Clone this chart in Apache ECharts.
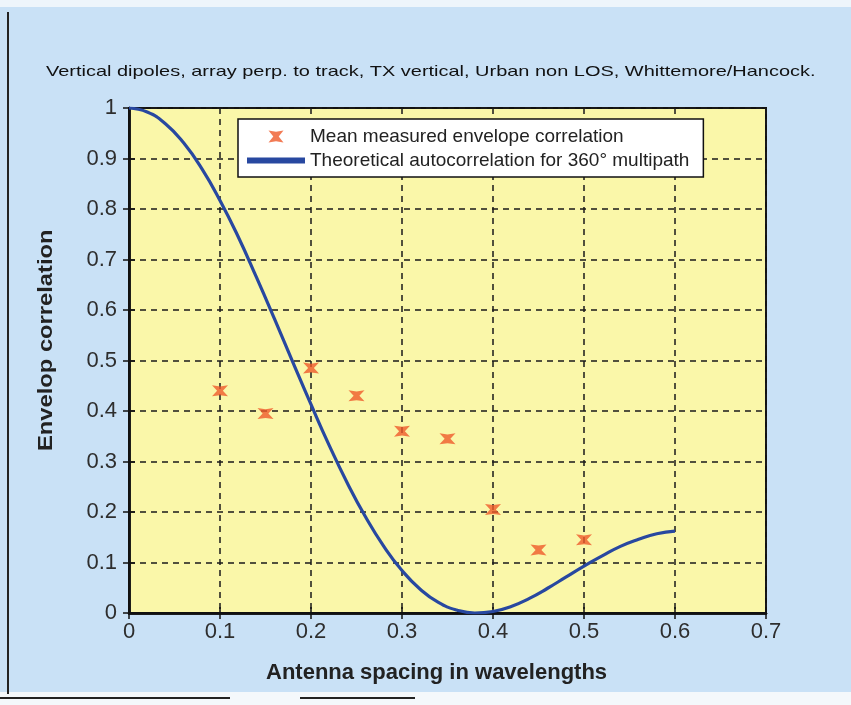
<!DOCTYPE html>
<html>
<head>
<meta charset="utf-8">
<script src="https://cdn.jsdelivr.net/npm/echarts@6/dist/echarts.min.js"></script>
<style>
  html, body { margin: 0; padding: 0; background: #c9e1f6; }
  #chart { width: 851px; height: 705px; }
</style>
</head>
<body>
<div id="chart"></div>
<script>
// Measured mean envelope correlation at each antenna spacing (wavelengths)
const measuredSpacing = [0.10, 0.15, 0.20, 0.25, 0.30, 0.35, 0.40, 0.45, 0.50];
const measuredCorr    = [0.44, 0.395, 0.485, 0.43, 0.36, 0.345, 0.205, 0.125, 0.145];

// Theoretical autocorrelation for 360° multipath
const theorySpacing = [0.00, 0.02, 0.04, 0.06, 0.08, 0.10, 0.12, 0.14, 0.16, 0.18,
                       0.20, 0.22, 0.24, 0.26, 0.28, 0.30, 0.32, 0.34, 0.36, 0.38,
                       0.40, 0.42, 0.44, 0.46, 0.48, 0.50, 0.52, 0.54, 0.56, 0.58, 0.60];
const theoryCorr    = [1.000, 0.992, 0.969, 0.931, 0.880, 0.817, 0.745, 0.665, 0.582, 0.497,
                       0.413, 0.332, 0.257, 0.190, 0.132, 0.084, 0.047, 0.021, 0.006, 0.000,
                       0.003, 0.013, 0.029, 0.049, 0.071, 0.093, 0.113, 0.132, 0.146, 0.157, 0.162];

const xTicks = [0, 0.1, 0.2, 0.3, 0.4, 0.5, 0.6, 0.7];
const yTicks = [0, 0.1, 0.2, 0.3, 0.4, 0.5, 0.6, 0.7, 0.8, 0.9, 1];

const titleText = 'Vertical dipoles, array perp. to track, TX vertical, Urban non LOS, Whittemore/Hancock.';
const xName = 'Antenna spacing in wavelengths';
const yName = 'Envelop correlation';
const measuredName = 'Mean measured envelope correlation';
const theoryName = 'Theoretical autocorrelation for 360\u00b0 multipath';

const pair = (xs, ys) => xs.map((x, i) => [x, ys[i]]);
const FONT = '"Liberation Sans", Arial, sans-serif';

const chart = echarts.init(document.getElementById('chart'), null, { renderer: 'canvas' });

const gridLine = { show: true, lineStyle: { color: '#1a1a1a', type: [6, 5], width: 1.5 } };
const axisLine = { show: true, lineStyle: { color: '#111', width: 2.5 } };
const ticks = { inside: true, length: 6, lineStyle: { color: '#111', width: 1.5 } };
const tickFont = { color: '#2e2e2e', fontSize: 22, fontFamily: FONT };

// hourglass-shaped marker for the measured points
const hourglass = 'path://M0,0 L5,0.8 L10,0 L6.8,4 L10,8 L5,7.2 L0,8 L3.2,4 Z';

chart.setOption({
  backgroundColor: '#c9e1f6',
  animation: false,
  graphic: [
    { type: 'rect', shape: { x: 0, y: 0, width: 851, height: 7 }, style: { fill: '#eef5fb' } },
    { type: 'rect', shape: { x: 0, y: 692, width: 851, height: 13 }, style: { fill: '#f4f8fb' } },
    { type: 'rect', shape: { x: 7, y: 12, width: 2, height: 682 }, style: { fill: '#222' } },
    { type: 'rect', shape: { x: 0, y: 697, width: 230, height: 2 }, style: { fill: '#222' } },
    { type: 'rect', shape: { x: 300, y: 697, width: 115, height: 2 }, style: { fill: '#222' } },
    { type: 'text', x: 46, y: 64, scaleX: 1.33,
      style: { text: titleText, fill: '#111', font: '15px ' + FONT } },
    { type: 'text', x: 266, y: 662,
      style: { text: xName, fill: '#222', font: 'bold 22px ' + FONT } },
    { type: 'text', x: 36, y: 451, rotation: Math.PI / 2, scaleX: 1.13,
      style: { text: yName, fill: '#222', font: 'bold 21px ' + FONT } }
  ],
  grid: { left: 129, right: 85, top: 108, bottom: 92, show: true,
          backgroundColor: '#faf7a9', borderColor: '#111', borderWidth: 2 },
  legend: {
    show: true, orient: 'vertical', left: 238, top: 119,
    backgroundColor: '#ffffff', borderColor: '#111', borderWidth: 1.5,
    padding: [8, 14, 7, 9], itemGap: 5, itemWidth: 58, itemHeight: 12,
    textStyle: { color: '#222', fontSize: 19, fontFamily: FONT },
    data: [
      { name: measuredName },
      { name: theoryName, icon: 'path://M0,0 L10,0 L10,1 L0,1 Z' }
    ]
  },
  xAxis: [
    { type: 'value', min: 0, max: 0.7, interval: 0.1, position: 'bottom',
      axisLine: axisLine, axisTick: ticks,
      axisLabel: Object.assign({ margin: 8, formatter: v => { const r = +v.toFixed(1); return xTicks.includes(r) ? String(r) : ''; } }, tickFont),
      splitLine: gridLine },
    { type: 'value', min: 0, max: 0.7, interval: 0.1, position: 'top',
      axisLine: axisLine, axisTick: ticks, axisLabel: { show: false }, splitLine: { show: false } }
  ],
  yAxis: [
    { type: 'value', min: 0, max: 1, interval: 0.1, position: 'left',
      axisLine: axisLine, axisTick: ticks,
      axisLabel: Object.assign({ margin: 12, formatter: v => { const r = +v.toFixed(1); return yTicks.includes(r) ? String(r) : ''; } }, tickFont),
      splitLine: gridLine },
    { type: 'value', min: 0, max: 1, interval: 0.1, position: 'right',
      axisLine: axisLine, axisTick: ticks, axisLabel: { show: false }, splitLine: { show: false } }
  ],
  series: [
    { name: measuredName, type: 'scatter', data: pair(measuredSpacing, measuredCorr),
      symbol: hourglass, symbolSize: [16, 11],
      itemStyle: { color: '#ef5a2a' }, z: 4 },
    { name: theoryName, type: 'line', data: pair(theorySpacing, theoryCorr),
      smooth: true, showSymbol: false, symbol: 'none',
      lineStyle: { color: '#2848a0', width: 3.2 }, itemStyle: { color: '#2848a0' }, z: 3 }
  ]
});
</script>
</body>
</html>
